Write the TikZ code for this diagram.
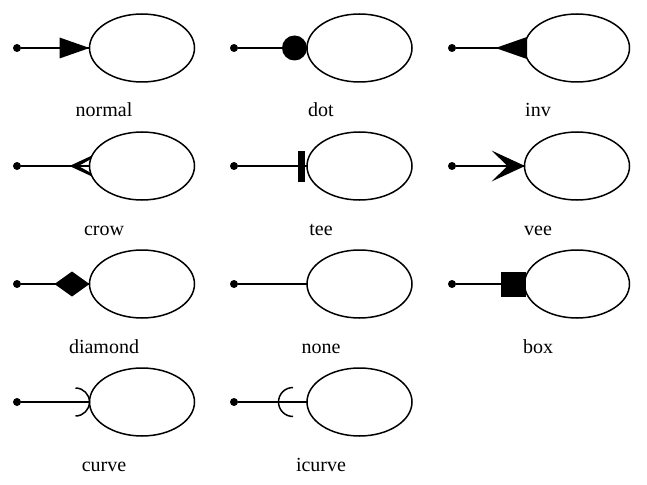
\documentclass[tikz,border=0pt]{standalone}
\usepackage{fontspec}
\setmainfont{Liberation Serif}
\usetikzlibrary{shapes.geometric}
\begin{document}
\begin{tikzpicture}[x=1pt,y=-1pt,line width=1.5pt,
  ell/.style={draw,ellipse,minimum width=105pt,minimum height=68pt,inner sep=0pt,outer sep=0pt,line width=1.5pt},
  src/.style={circle,fill=black,inner sep=0pt,minimum size=8pt,outer sep=0pt},
  lab/.style={font=\fontsize{20}{24}\selectfont,anchor=base,inner sep=0pt},
  conn/.style={draw=black,line width=1.5pt},
  headfill/.style={fill=black,draw=none},
  headline/.style={draw=black,line width=1.5pt}]
\useasboundingbox (0,0) rectangle (647,484);
% row 1
\node[ell] (e1) at (142,48) {};
\node[src] (s1) at (17,48) {};
\node[lab] (l1) at (104,117) {normal};
\node[ell] (e2) at (359.5,48) {};
\node[src] (s2) at (234,48) {};
\node[lab] (l2) at (321,117) {dot};
\node[ell] (e3) at (577,48) {};
\node[src] (s3) at (452,48) {};
\node[lab] (l3) at (538,117) {inv};
% row 2
\node[ell] (e4) at (142,166) {};
\node[src] (s4) at (17,166) {};
\node[lab] (l4) at (104,235) {crow};
\node[ell] (e5) at (359.5,166) {};
\node[src] (s5) at (234,166) {};
\node[lab] (l5) at (321,235) {tee};
\node[ell] (e6) at (577,166) {};
\node[src] (s6) at (452,166) {};
\node[lab] (l6) at (538,235) {vee};
% row 3
\node[ell] (e7) at (142,284) {};
\node[src] (s7) at (17,284) {};
\node[lab] (l7) at (104,353) {diamond};
\node[ell] (e8) at (359.5,284) {};
\node[src] (s8) at (234,284) {};
\node[lab] (l8) at (321,353) {none};
\node[ell] (e9) at (577,284) {};
\node[src] (s9) at (452,284) {};
\node[lab] (l9) at (538,353) {box};
% row 4
\node[ell] (e10) at (142,402) {};
\node[src] (s10) at (17,402) {};
\node[lab] (l10) at (104,471) {curve};
\node[ell] (e11) at (359.5,402) {};
\node[src] (s11) at (234,402) {};
\node[lab] (l11) at (321,471) {icurve};
% connectors
\foreach \i in {1,...,11} {\draw[conn] (s\i) -- (e\i.west);}
% heads
\path[headfill,shift={(e1.west)}] (0,0) -- (-30,-10.5) -- (-30,10.5) -- cycle;
\path[headfill,shift={(e2.west)}] (-12.5,0) circle[radius=12.5];
\path[headfill,shift={(e3.west)}] (2.5,-11) -- (2.5,11) -- (-29,0) -- cycle;
\path[headfill,shift={(e4.west)}] (-20,0) -- (1.5,-10) -- (1.5,-7) -- (-11,0) -- (1.5,7) -- (1.5,10) -- cycle;
\path[headfill,shift={(e5.west)}] (-9,-15.5) rectangle (-2,15.5);
\path[headfill,shift={(e6.west)}] (0.5,0) -- (-33,-15.5) -- (-17,0) -- (-33,15.5) -- cycle;
\path[headfill,shift={(e7.west)}] (0,0) -- (-17.5,-12.5) -- (-35,0) -- (-17.5,12.5) -- cycle;
\path[headfill,shift={(e9.west)}] (-23.5,-12.5) rectangle (1.5,12.5);
\draw[headline,shift={(e10.west)}] (-14,14) arc[start angle=90,end angle=-90,radius=14];
\draw[headline,shift={(e11.west)}] (-14,-14.5) arc[start angle=-90,end angle=-270,radius=14.5];
\end{tikzpicture}
\end{document}
